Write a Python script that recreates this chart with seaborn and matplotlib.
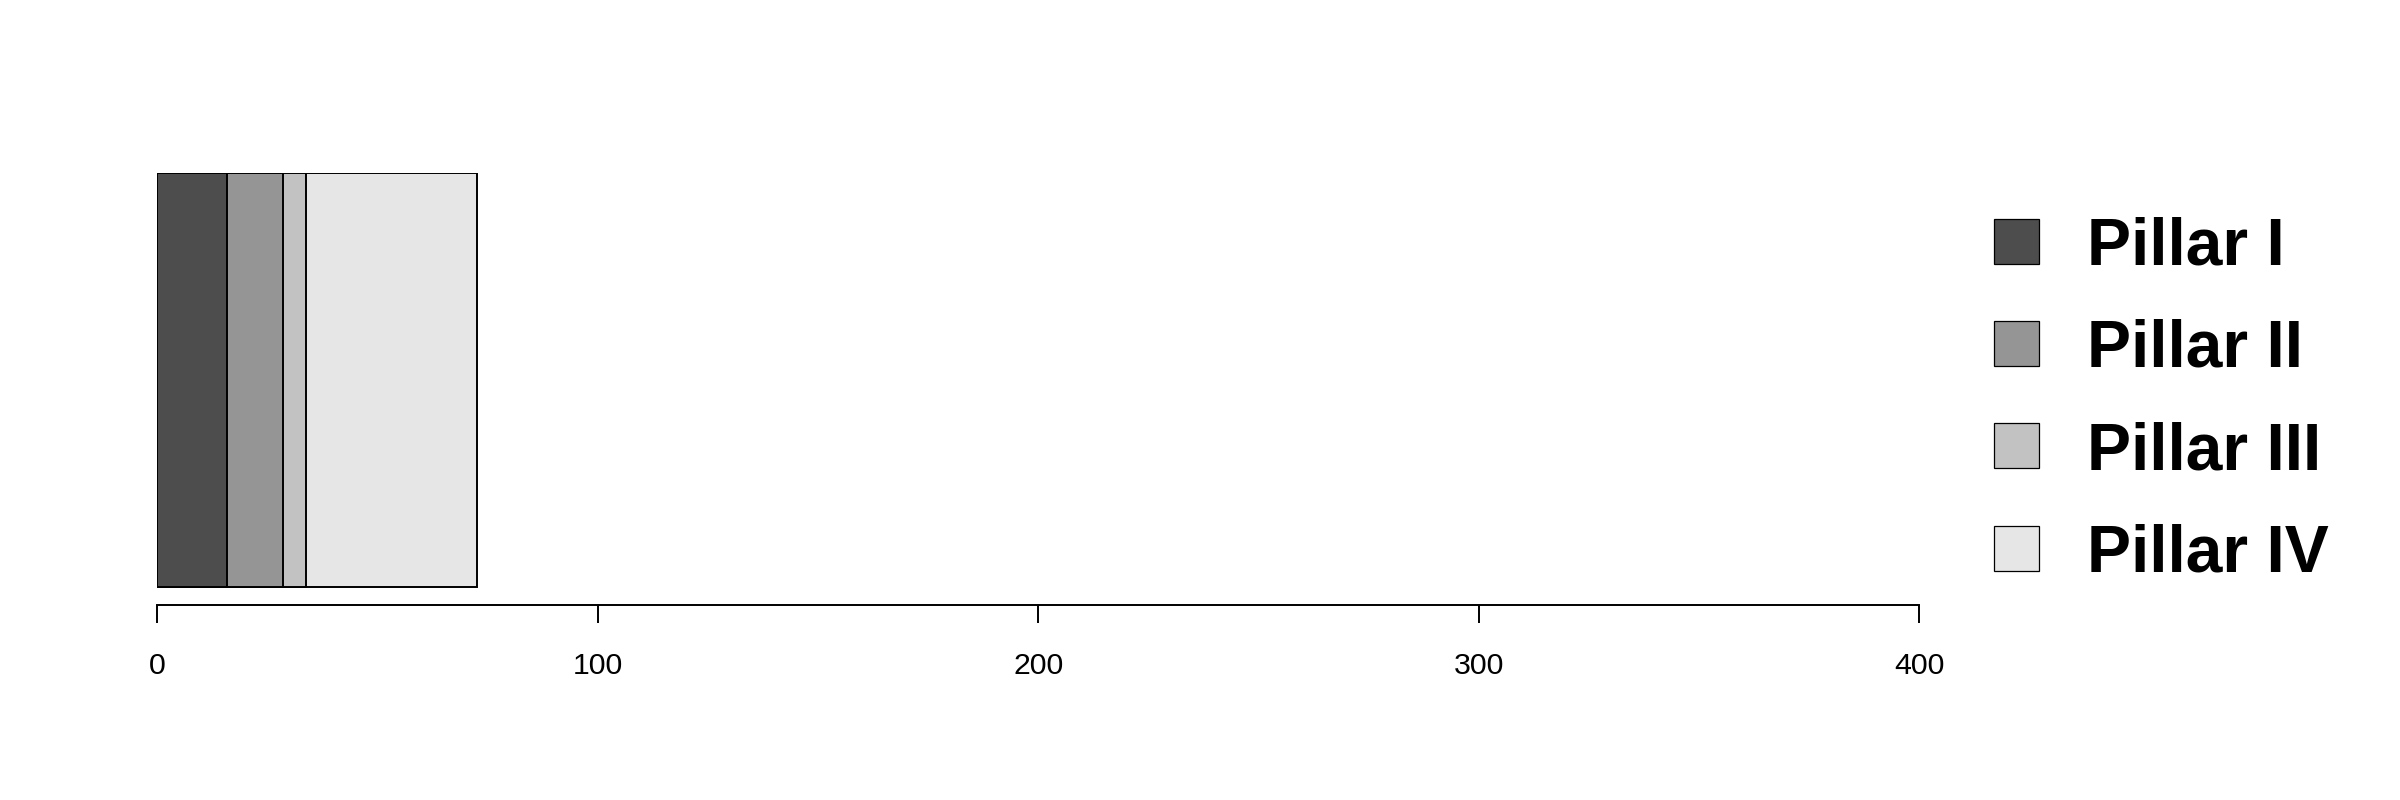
import numpy as np
import pandas as pd
import matplotlib
matplotlib.use("Agg")
import matplotlib.pyplot as plt
import matplotlib.patches as mpatches
import seaborn as sns

# ---- data ----
categories = ["Pillar I", "Pillar II", "Pillar III", "Pillar IV"]
values = [15.9, 12.7, 5.2, 38.9]
colors = ["#4D4D4D", "#959595", "#C2C2C2", "#E6E6E6"]
xticks = [0, 100, 200, 300, 400]

sns.set_theme(style="ticks")
plt.rcParams["font.family"] = ["Liberation Sans", "DejaVu Sans"]
plt.rcParams["text.color"] = "black"
plt.rcParams["axes.edgecolor"] = "black"
plt.rcParams["xtick.color"] = "black"

W, H = 2400, 800
fig = plt.figure(figsize=(24, 8), dpi=100)
x0, x1 = 157.2, 1919.3
ytop, ybot = 173.3, 604.6
ax = fig.add_axes([x0 / W, 1 - ybot / H, (x1 - x0) / W, (ybot - ytop) / H])

cum = np.cumsum(values)
df = pd.DataFrame({"pillar": categories, "end": cum, "group": ["total"] * len(values)})

# stacked bar: draw cumulative ends, largest first
for i in reversed(range(len(categories))):
    sub = df.iloc[[i]]
    sns.barplot(data=sub, x="end", y="group", orient="h", color=colors[i],
                saturation=1, edgecolor="black", linewidth=1.4, width=1.0, ax=ax)

ax.set_xlim(0, 400)
ax.set_ylim(0.5 + 0.0425, -0.5)
ax.set_xticks(xticks)
ax.set_xticklabels([str(t) for t in xticks])
ax.set_yticks([])
ax.set_xlabel("")
ax.set_ylabel("")
for s in ["left", "top", "right"]:
    ax.spines[s].set_visible(False)
ax.spines["bottom"].set_linewidth(1.4)
ax.tick_params(axis="x", direction="out", length=13.3, width=1.4, pad=20.8,
               labelsize=21.8, colors="black")

handles = [mpatches.Patch(facecolor=c, edgecolor="black", linewidth=0.9) for c in colors]
ax.legend(handles, categories, loc="upper left",
          bbox_to_anchor=(1994 / W, 1 - 216.6 / H), bbox_transform=fig.transFigure,
          frameon=False, prop={"family": "Liberation Sans", "weight": "bold", "size": 47.5},
          handlelength=0.68, handleheight=0.67, labelspacing=0.61, handletextpad=0.73,
          borderpad=0, borderaxespad=0)

fig.savefig("out.png", dpi=100, facecolor="white")
